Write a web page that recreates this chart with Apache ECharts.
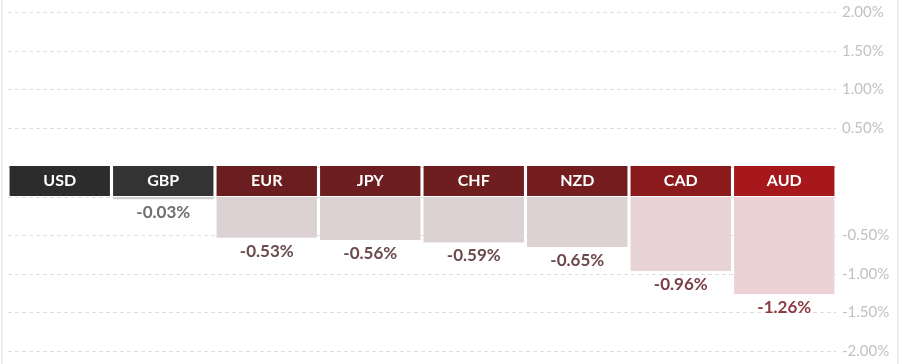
<!DOCTYPE html>
<html>
<head>
<meta charset="utf-8">
<script src="https://cdn.jsdelivr.net/npm/echarts@6/dist/echarts.min.js"></script>
<style>
  html, body { margin: 0; padding: 0; background: #fff; }
  #wrap { position: relative; width: 904px; height: 364px; }
  #chart { position: absolute; left: 0; top: 0; width: 904px; height: 364px; }
  #frame { position: absolute; left: 1px; top: 0; width: 898px; height: 364px; border-left: 2px solid #eeeeee; border-right: 2px solid #eeeeee; box-sizing: border-box; pointer-events: none; }
</style>
</head>
<body>
<div id="wrap"><div id="chart"></div><div id="frame"></div></div>
<script>
// ---- data ----
const categories = ['USD', 'GBP', 'EUR', 'JPY', 'CHF', 'NZD', 'CAD', 'AUD'];
const changes = [0, -0.03, -0.53, -0.56, -0.59, -0.65, -0.96, -1.26];
const upperTicks = [0, 0.5, 1.0, 1.5, 2.0];
const lowerTicks = [-2.0, -1.5, -1.0, -0.5, 0];

// ---- styles ----
const boxColors = ['#2c2c2c', '#333333', '#6b1e1f', '#6d1e20', '#6f1e1f', '#731d1f', '#8a1a1c', '#a6181b'];
const barColors = ['#d6d6d6', '#cfcfcf', '#dcd2d3', '#dcd2d3', '#dcd2d3', '#ddd2d3', '#e8d3d6', '#edd2d5'];
const labelColors = ['#6f6f6f', '#6f6f6f', '#6a4a4e', '#6a4a4e', '#6a4a4e', '#6d474c', '#7b3f45', '#8c3a40'];

const chart = echarts.init(document.getElementById('chart'), null, { renderer: 'canvas' });

const fmtPct = v => (v === 0 ? '' : v.toFixed(2) + '%');
const gridBase = { left: 8, right: 68 };
const splitStyle = { show: true, lineStyle: { color: '#dddddd', type: [4, 3], width: 1 } };
const yLabel = { show: true, color: '#c2c2c2', fontFamily: 'Lato', fontSize: 15, margin: 6, formatter: fmtPct };
const hiddenX = (gi) => ({
  type: 'category', gridIndex: gi, data: categories,
  axisLine: { show: false }, axisTick: { show: false }, axisLabel: { show: false }, splitLine: { show: false }
});

chart.setOption({
  animation: false,
  grid: [
    Object.assign({ top: 12, height: 155 }, gridBase),
    Object.assign({ top: 166, height: 30 }, gridBase),
    Object.assign({ top: 197, height: 154 }, gridBase)
  ],
  xAxis: [hiddenX(0), hiddenX(1), hiddenX(2)],
  yAxis: [
    { type: 'value', gridIndex: 0, position: 'right', min: upperTicks[0], max: upperTicks[upperTicks.length - 1], interval: 0.5,
      axisLine: { show: false }, axisTick: { show: false }, axisLabel: yLabel, splitLine: splitStyle },
    { type: 'value', gridIndex: 1, min: 0, max: 1, show: false, splitLine: { show: false } },
    { type: 'value', gridIndex: 2, position: 'right', min: lowerTicks[0], max: lowerTicks[lowerTicks.length - 1], interval: 0.5,
      axisLine: { show: false }, axisTick: { show: false }, axisLabel: yLabel, splitLine: splitStyle }
  ],
  series: [
    {
      type: 'bar', xAxisIndex: 1, yAxisIndex: 1, barCategoryGap: '3%',
      data: categories.map((c, i) => ({ value: 1, name: c, itemStyle: { color: boxColors[i] } })),
      label: {
        show: true, position: 'inside', color: '#ffffff', fontFamily: 'Lato', fontWeight: 'bold', fontSize: 16,
        formatter: p => categories[p.dataIndex]
      },
      silent: true
    },
    {
      type: 'bar', xAxisIndex: 2, yAxisIndex: 2, barCategoryGap: '3%',
      data: changes.map((v, i) => ({
        value: v,
        itemStyle: { color: barColors[i] },
        label: { color: labelColors[i] }
      })),
      label: {
        show: true, position: 'bottom', distance: 5, fontFamily: 'Lato', fontWeight: 'bold', fontSize: 17,
        formatter: p => fmtPct(p.value)
      },
      silent: true
    }
  ]
});
</script>
</body>
</html>
